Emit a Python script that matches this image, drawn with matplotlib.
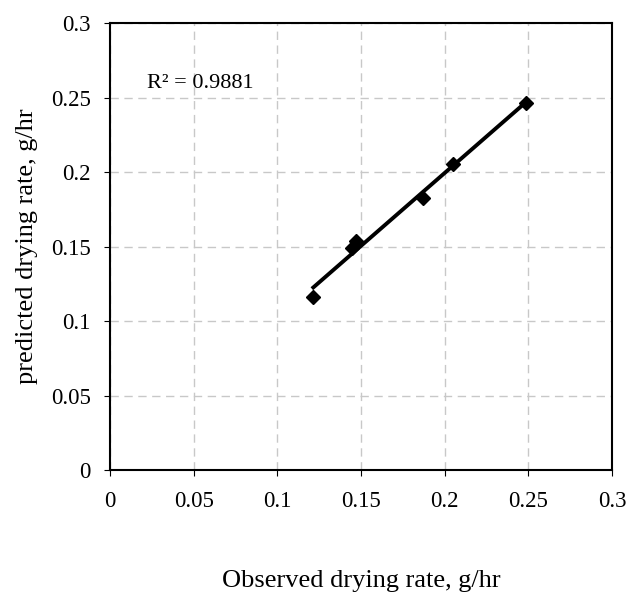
import numpy as np
import matplotlib.pyplot as plt

plt.rcParams['font.family'] = ['Liberation Serif', 'DejaVu Serif']

# observed vs predicted drying rate (g/hr)
observed = [0.1215, 0.1445, 0.147, 0.187, 0.2052, 0.2485]
predicted = [0.116, 0.149, 0.1538, 0.1827, 0.2058, 0.2463]
ticks = [0, 0.05, 0.1, 0.15, 0.2, 0.25, 0.3]
tick_labels = ['0', '0.05', '0.1', '0.15', '0.2', '0.25', '0.3']
r2_text = 'R\u00b2 = 0.9881'

fig = plt.figure(figsize=(6.28, 5.96), dpi=100)
ax = fig.add_axes([110/628, 126/596, 502/628, 446.7/596])

# linear trend line across the data range
slope, intercept = np.polyfit(observed, predicted, 1)
xs = np.array([min(observed), max(observed)])
ax.plot(xs, slope * xs + intercept, color='black', lw=2.8, zorder=3)
ax.plot(observed, predicted, 'D', color='black', ms=7.5, zorder=4)

ax.set_xlim(0, 0.3)
ax.set_ylim(0, 0.3)
ax.set_xticks(ticks)
ax.set_xticklabels(tick_labels)
ax.set_yticks(ticks)
ax.set_yticklabels(tick_labels)
ax.grid(True, color='#c8c8c8', linestyle=(0, (6, 4)), lw=1)
ax.set_axisbelow(True)
for s in ax.spines.values():
    s.set_linewidth(1.5)
ax.tick_params(axis='x', direction='out', length=4, pad=11, labelsize=16.5)
ax.tick_params(axis='y', direction='out', length=4.3, pad=9.4, labelsize=16.5)

ax.text(0.0221, 0.2565, r2_text, fontsize=16, ha='left', va='baseline')

ax.set_xlabel('Observed drying rate, g/hr', fontsize=19, va='baseline')
ax.xaxis.set_label_coords(0.5, -0.262)
ax.set_ylabel('predicted drying rate, g/hr', fontsize=19, va='baseline')
ax.yaxis.set_label_coords(-0.1534, 0.5)

fig.savefig('out.png', dpi=100)
